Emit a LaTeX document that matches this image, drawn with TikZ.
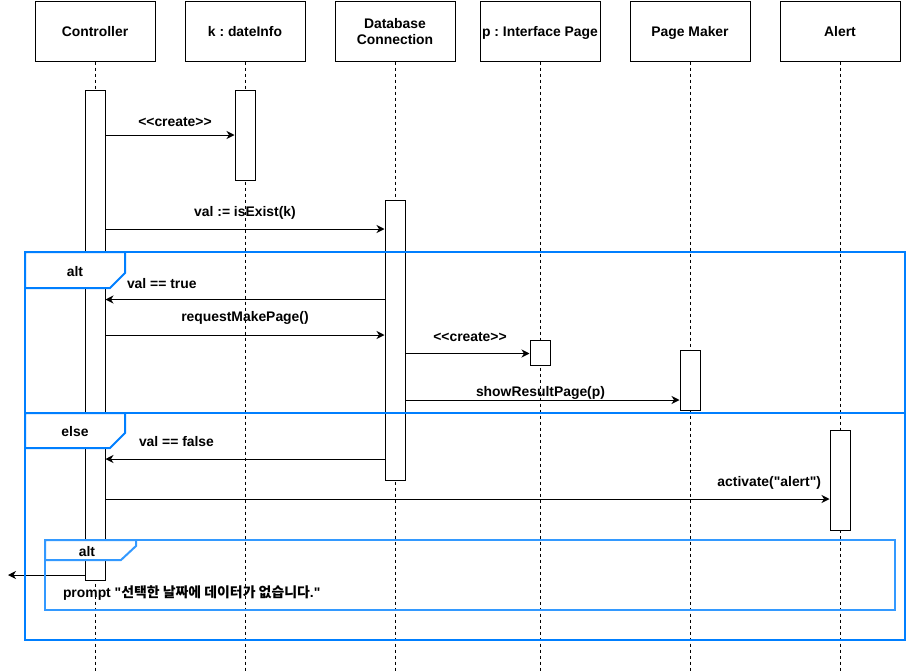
\documentclass[tikz,border=0pt]{standalone}
\usepackage{fontspec}
\setmainfont{Liberation Sans}[Ligatures=TeXOff]
\newfontfamily\krfont{Noto Sans CJK KR}[Ligatures=TeXOff]
\usetikzlibrary{arrows.meta,calc}

\definecolor{frameblue}{HTML}{007FFF}
\newcommand\diafont{\fontsize{13.9}{16}\selectfont\bfseries\frenchspacing}

\tikzset{
  head/.style={draw, line width=1pt, fill=white, minimum width=120pt, minimum height=60pt,
    inner sep=0pt, align=center, font=\diafont},
  onehead/.style={head, text height=10pt, text depth=0pt},
  life/.style={line width=1pt, dash pattern=on 3pt off 3pt},
  act/.style={draw, line width=1pt, fill=white, minimum width=20pt, inner sep=0pt},
  msg/.style={line width=1pt, -{Stealth[length=8pt,width=8pt,inset=2.5pt]}},
  lbl/.style={font=\diafont, inner sep=0pt, text height=10pt, text depth=0pt},
  frame/.style={draw=frameblue, line width=2pt},
  subframe/.style={draw=frameblue!80!white, line width=2pt},
}

\begin{document}
\begin{tikzpicture}[x=1pt,y=-1pt]
\useasboundingbox (0,0) rectangle (908,672);

% participants
\node[onehead] (hC) at (95,31)  {Controller};
\node[onehead] (hK) at (245,31) {k : dateInfo};
\node[head]    (hD) at (395,31) {\rule{0pt}{11pt}Database\\Connection};
\node[onehead] (hP) at (540,31) {p : Interface Page};
\node[onehead] (hM) at (690,31) {Page Maker};
\node[onehead] (hA) at (840,31) {Alert};

% lifelines
\foreach \h in {hC,hK,hD,hP,hM,hA}
  \draw[life] (\h.south) -- (\h.south |- 0,672);

% activation bars
\node[act, minimum height=490pt] (aC) at (95,335)   {};
\node[act, minimum height=90pt]  (aK) at (245,135)  {};
\node[act, minimum height=280pt] (aD) at (395,340)  {};
\node[act, minimum height=25pt]  (aP) at (540,352.5){};
\node[act, minimum height=60pt]  (aM) at (690,380)  {};
\node[act, minimum height=100pt] (aA) at (840,480)  {};

% messages
\draw[msg] (aC.east |- 0,135) -- node[lbl, xshift=5pt, yshift=14pt] (m1) {<<create>>} (aK.west |- 0,135);
\draw[msg] (aC.east |- 0,229) -- node[lbl, yshift=18pt] (m2) {val := isExist(k)} (aD.west |- 0,229);
\draw[msg] (aD.west |- 0,299.5) -- node[lbl, at end, anchor=west, xshift=21pt, yshift=16pt] (m3) {val == true} (aC.east |- 0,299.5);
\draw[msg] (aC.east |- 0,335) -- node[lbl, yshift=19pt] (m4) {requestMakePage()} (aD.west |- 0,335);
\draw[msg] (aD.east |- 0,353.5) -- node[lbl, xshift=2.5pt, yshift=17.5pt] (m5) {<<create>>} (aP.west |- 0,353.5);
\draw[msg] (aD.east |- 0,400) -- node[lbl, xshift=-2pt, yshift=9pt] (m6) {showResultPage(p)} (aM.west |- 0,400);
\draw[msg] (aD.west |- 0,459) -- node[lbl, at end, anchor=west, xshift=33pt, yshift=18pt] (m7) {val == false} (aC.east |- 0,459);
\draw[msg] (aC.east |- 0,499) -- node[lbl, at end, anchor=east, xshift=-8pt, yshift=18pt] (m8) {activate("alert")} (aA.west |- 0,499);
\coordinate (user) at (8,575);
\draw[msg] (aC.west |- 0,575) -- node[lbl, at start, anchor=west, xshift=-22pt, yshift=-17pt] (m9)
  {prompt "{\krfont\bfseries 선택한 날짜에 데이터가 없습니다}."} (user);

% combined fragment: alt / else
\draw[frame] (25,252) rectangle (905,640);
\draw[frame] (25,413) -- (905,413);
\draw[frame, fill=white] (25,252) -- (125,252) -- (125,273) -- (110,288) -- (25,288) -- cycle;
\node[lbl] (tAlt) at (75,271) {alt};
\draw[frame, fill=white] (25,413) -- (125,413) -- (125,433) -- (110,448) -- (25,448) -- cycle;
\node[lbl] (tElse) at (75,431) {else};

% nested alt fragment
\draw[subframe] (45,540) rectangle (895,610);
\draw[subframe, fill=white] (45,540) -- (136,540) -- (136,546) -- (121,560) -- (45,560) -- cycle;
\node[lbl] (tAlt2) at (87,551) {alt};
\end{tikzpicture}
\end{document}
